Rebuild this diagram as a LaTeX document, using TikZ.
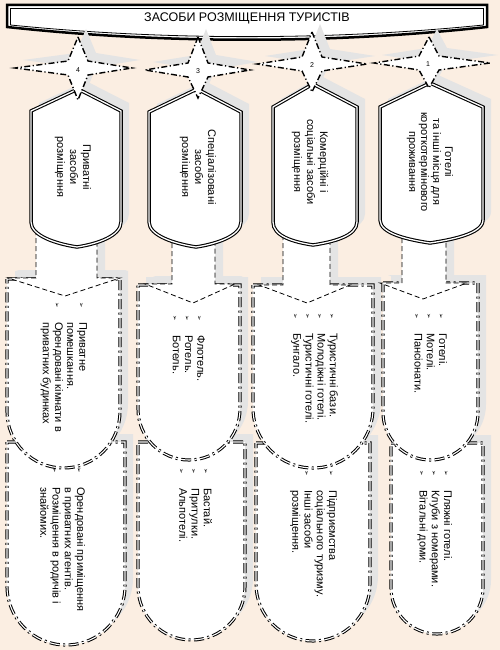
\documentclass[tikz,border=0pt]{standalone}
\usepackage{fontspec}
\setmainfont{Liberation Sans}
\newfontfamily\dvfont{DejaVu Sans}
\definecolor{bgc}{HTML}{FBEEE2}
\definecolor{shc}{HTML}{E4E4E4}
\newcommand\itm{\makebox[20pt][l]{\dvfont\fontsize{6.5}{6.5}\selectfont ➢}}
\newcommand\cnt{\hspace*{20pt}}
% shield: cx, top, arc-centre y, radius
\newcommand\shieldp[4]{(#1-#4,#2) -- (#1+#4,#2) -- (#1+#4,#3) .. controls (#1+#4,#3+0.5523*#4) and (#1+0.5523*#4,#3+#4) .. (#1,#3+#4) .. controls (#1-0.5523*#4,#3+#4) and (#1-#4,#3+0.5523*#4) .. (#1-#4,#3) -- cycle}
% box: L, R, peak x, peak y, shoulder y, side bottom y, bottom x, bottom y
\newcommand\boxp[8]{(#3,#4) -- (#2,#5) -- (#2,#6) .. controls (#2,#6+14) and (#7+20,#8-3) .. (#7,#8) .. controls (#7-20,#8-3) and (#1,#6+14) .. (#1,#6) -- (#1,#5) -- cycle}
% arrow: stem x1, stem x2, stem top, shoulder y, head left, head right, tip x, tip y
\newcommand\arrp[8]{(#1,#3) -- (#1,#4) -- (#5,#4) -- (#7,#8) -- (#6,#4) -- (#2,#4) -- (#2,#3)}
% star: cx, cy, top, bottom, left, right
\newcommand\starp[6]{(#1,#3) -- (#1+10,#2-7) -- (#6,#2) -- (#1+10,#2+7) -- (#1,#4) -- (#1-10,#2+7) -- (#5,#2) -- (#1-10,#2-7) -- cycle}
\begin{document}
\begin{tikzpicture}[x=1pt,y=-1pt,
  shadowfill/.style={fill=shc,draw=none},
  boxshape/.style={draw=black,double=white,line width=1.1pt,double distance=1.3pt,fill=white},
  shieldshape/.style={draw=black,double=white,line width=1pt,double distance=1.1pt,fill=white,dash pattern=on 10pt off 3.5pt on 2pt off 3.5pt},
  arrowshape/.style={draw=black,fill=white,line width=0.8pt,dash pattern=on 5pt off 3pt},
  starshape/.style={draw=black,fill=white,line width=1.4pt,dash pattern=on 6pt off 2.5pt on 1.2pt off 2.5pt},
  boxtext/.style={rotate=-90,align=center,font=\fontsize{11}{13}\selectfont,inner sep=0pt},
  listtext/.style={rotate=-90,align=left,anchor=north west,font=\fontsize{11}{12.2}\selectfont,inner sep=0pt},
  numtext/.style={font=\fontsize{7}{8}\selectfont,inner sep=0.5pt},
  titletext/.style={font=\fontsize{12.5}{14}\selectfont,inner sep=0pt}
]
\useasboundingbox (0,0) rectangle (500,650);
\fill[bgc] (0,0) rectangle (500,650);
% banner
\path[draw=black,fill=white,line width=2.5pt] (7,5) -- (487,5) -- (487,27) .. controls (330,44) and (164,44) .. (7,27) -- cycle;
\draw[black,line width=0.8pt] (10.5,8.5) -- (483.5,8.5) -- (483.5,25) .. controls (330,40.5) and (164,40.5) .. (10.5,25) -- cycle;
\node[titletext] (title) at (247,18) {ЗАСОБИ РОЗМІЩЕННЯ ТУРИСТІВ};
% shadows
\begin{scope}[shift={(8,-8)}]
\fill[shadowfill] \shieldp{66}{442}{586}{59};
\fill[shadowfill] \shieldp{191.5}{442}{586.5}{53.5};
\fill[shadowfill] \shieldp{313}{443}{584}{57};
\fill[shadowfill] \shieldp{437}{443}{588}{46};
\fill[shadowfill] \shieldp{63.5}{279}{411.5}{56.5};
\fill[shadowfill] \shieldp{189}{285}{409}{51};
\fill[shadowfill] \shieldp{313}{285}{408}{60};
\fill[shadowfill] \shieldp{430.5}{283}{412.5}{47.5};
\fill[shadowfill] \arrp{36}{97}{230}{278}{8}{120}{65}{296};
\fill[shadowfill] \arrp{172}{215}{235}{284}{145}{235}{193}{303};
\fill[shadowfill] \arrp{283}{330}{235}{285}{259}{350}{307}{303};
\fill[shadowfill] \arrp{402}{446}{230}{283}{380}{467}{423}{299};
\fill[shadowfill] \boxp{31}{121}{78}{89}{111}{222}{77}{247};
\fill[shadowfill] \boxp{149}{241}{197}{89}{112}{222}{196}{247};
\fill[shadowfill] \boxp{273}{357}{313}{84}{107}{222}{313}{245};
\fill[shadowfill] \boxp{380}{483}{430}{83}{107}{220}{430}{243};
\fill[shadowfill] \starp{78}{68}{37}{100}{15}{132};
\fill[shadowfill] \starp{198}{70}{37}{98}{145}{250};
\fill[shadowfill] \starp{312}{64}{32}{92}{257}{367};
\fill[shadowfill] \starp{429}{63}{37}{88}{374}{490};
\end{scope}
% second row of shields
\path[shieldshape] \shieldp{66}{442}{586}{59};
\path[shieldshape] \shieldp{191.5}{442}{586.5}{53.5};
\path[shieldshape] \shieldp{313}{443}{584}{57};
\path[shieldshape] \shieldp{437}{443}{588}{46};
% first row of shields
\path[shieldshape] \shieldp{63.5}{279}{411.5}{56.5};
\path[shieldshape] \shieldp{189}{285}{409}{51};
\path[shieldshape] \shieldp{313}{285}{408}{60};
\path[shieldshape] \shieldp{430.5}{283}{412.5}{47.5};
% block arrows
\path[arrowshape] \arrp{36}{97}{230}{278}{8}{120}{65}{296};
\path[arrowshape] \arrp{172}{215}{235}{284}{145}{235}{193}{303};
\path[arrowshape] \arrp{283}{330}{235}{285}{259}{350}{307}{303};
\path[arrowshape] \arrp{402}{446}{230}{283}{380}{467}{423}{299};
% boxes
\path[boxshape] \boxp{31}{121}{78}{89}{111}{222}{77}{247};
\path[boxshape] \boxp{149}{241}{197}{89}{112}{222}{196}{247};
\path[boxshape] \boxp{273}{357}{313}{84}{107}{222}{313}{245};
\path[boxshape] \boxp{380}{483}{430}{83}{107}{220}{430}{243};
% stars
\path[starshape] \starp{78}{68}{37}{100}{15}{132};
\path[starshape] \starp{198}{70}{37}{98}{145}{250};
\path[starshape] \starp{312}{64}{32}{92}{257}{367};
\path[starshape] \starp{429}{63}{37}{88}{374}{490};
\node[numtext] (n4) at (78,70) {4};
\node[numtext] (n3) at (198,71) {3};
\node[numtext] (n2) at (312,65) {2};
\node[numtext] (n1) at (428,64) {1};
% box texts
\node[boxtext] (b4) at (73,167) {Приватні\\засоби\\розміщення};
\node[boxtext] (b3) at (198,167) {Спеціалізовані\\засоби\\розміщення};
\node[boxtext] (b2) at (310,162) {Комерційні і\\соціальні засоби\\розміщення};
\node[boxtext,font=\fontsize{11}{12}\selectfont] (b1) at (430,162) {Готелі\\та інші місця для\\короткотермінового\\проживання};
% list texts
\node[listtext] (l4a) at (87.2,302) {\itm Приватне\\\cnt помешкання.\\\itm Орендовані кімнати в\\\cnt приватних будинках};
\node[listtext] (l3a) at (205.2,315) {\itm Флотель.\\\itm Ротель.\\\itm Ботель.};
\node[listtext] (l2a) at (338.2,313) {\itm Туристичні бази.\\\itm Молодіжні готелі.\\\itm Туристичні готелі.\\\itm Бунгало.};
\node[listtext] (l1a) at (447.2,313) {\itm Готелі.\\\itm Мотелі.\\\itm Пансіонати.};
\node[listtext] (l4b) at (85.2,467) {\itm Орендовані приміщення\\\cnt в приватних агентів.\\\itm Розміщення в родичів і\\\cnt знайомих.};
\node[listtext] (l3b) at (212.2,468) {\itm Бастай.\\\itm Притулки.\\\itm Альпотелі.};
\node[listtext] (l2b) at (337.2,470) {\itm Підприємства\\\cnt соціального туризму.\\\itm Інші засоби\\\cnt розміщення.};
\node[listtext] (l1b) at (452.2,470) {\itm Пляжні готелі.\\\itm Клуби з номерами.\\\itm Вітальні доми.};
\end{tikzpicture}
\end{document}
